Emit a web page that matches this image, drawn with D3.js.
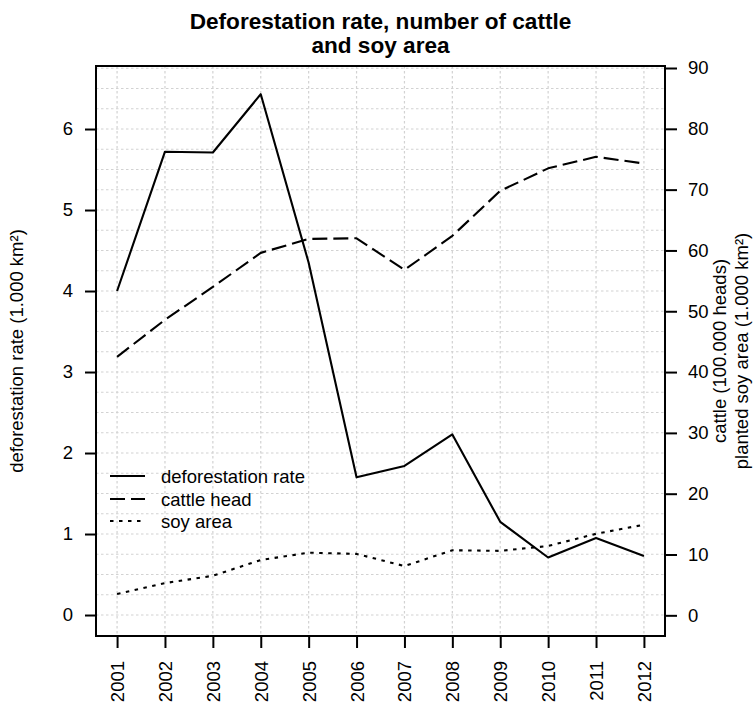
<!DOCTYPE html>
<html>
<head>
<meta charset="utf-8">
<script src="https://cdn.jsdelivr.net/npm/d3@7"></script>
<style>
  html, body { margin: 0; padding: 0; background: #fff; }
  svg { display: block; font-family: "Liberation Sans", Arial, sans-serif; }
</style>
</head>
<body>
<svg id="chart" width="753" height="702"></svg>
<script>
// Yearly series
const years = [2001, 2002, 2003, 2004, 2005, 2006, 2007, 2008, 2009, 2010, 2011, 2012];
// deforestation rate, 1.000 km²
const deforestation = [4.00, 5.72, 5.71, 6.43, 4.35, 1.70, 1.84, 2.23, 1.15, 0.71, 0.95, 0.73];
// cattle, 100.000 heads
const cattle = [42.5, 48.6, 54.0, 59.6, 61.9, 62.0, 56.8, 62.4, 69.8, 73.5, 75.4, 74.3];
// planted soy area, 1.000 km²
const soy = [3.5, 5.3, 6.5, 9.1, 10.3, 10.1, 8.1, 10.7, 10.6, 11.4, 13.4, 14.9];

const leftTicks = [0, 1, 2, 3, 4, 5, 6];
const rightTicks = [0, 10, 20, 30, 40, 50, 60, 70, 80, 90];
const legendLabels = ["deforestation rate", "cattle head", "soy area"];

const svg = d3.select("#chart");
const box = { left: 96, right: 665, top: 66, bottom: 636 };

const x = d3.scaleLinear().domain([2001 - 0.44, 2012 + 0.44]).range([box.left, box.right]);
const yL = d3.scaleLinear().domain([-0.259, 6.778]).range([box.bottom, box.top]);
const yR = d3.scaleLinear().domain([-3.40, 90.33]).range([box.bottom, box.top]);

// grid
const grid = svg.append("g")
  .attr("stroke", "#d2d2d2").attr("stroke-width", 1.2).attr("stroke-dasharray", "2.5,2.5");
grid.selectAll("line.v").data(years).join("line")
  .attr("x1", d => x(d)).attr("x2", d => x(d))
  .attr("y1", box.top).attr("y2", box.bottom);
const hGrid = d3.range(-0.25, 6.76, 0.25).filter(v => yL(v) > box.top + 1 && yL(v) < box.bottom - 1);
grid.selectAll("line.h").data(hGrid).join("line")
  .attr("x1", box.left).attr("x2", box.right)
  .attr("y1", d => yL(d)).attr("y2", d => yL(d));

// series
const series = [
  { values: deforestation, scale: yL, dash: null },
  { values: cattle, scale: yR, dash: "15,6" },
  { values: soy, scale: yR, dash: "3.5,5.5" }
];
series.forEach(s => {
  const line = d3.line().x((d, i) => x(years[i])).y(d => s.scale(d));
  svg.append("path")
    .datum(s.values)
    .attr("d", line)
    .attr("fill", "none")
    .attr("stroke", "#000")
    .attr("stroke-width", 2.1)
    .attr("stroke-linejoin", "round")
    .attr("stroke-dasharray", s.dash);
});

// axes
const styleAxis = g => {
  g.select(".domain").remove();
  g.selectAll(".tick line").attr("stroke", "#000").attr("stroke-width", 2);
  g.selectAll(".tick text").attr("fill", "#000").attr("font-size", 18.5).attr("font-family", null);
};

svg.append("g")
  .attr("transform", `translate(${box.left},0)`)
  .call(d3.axisLeft(yL).tickValues(leftTicks).tickFormat(d3.format("d")).tickSize(11).tickPadding(12))
  .call(styleAxis);

svg.append("g")
  .attr("transform", `translate(${box.right},0)`)
  .call(d3.axisRight(yR).tickValues(rightTicks).tickFormat(d3.format("d")).tickSize(12).tickPadding(11))
  .call(styleAxis);

svg.append("g")
  .attr("transform", `translate(0,${box.bottom})`)
  .call(d3.axisBottom(x).tickValues(years).tickFormat(d3.format("d")).tickSize(12))
  .call(styleAxis)
  .call(g => g.selectAll(".tick text")
    .attr("transform", "rotate(-90)")
    .attr("text-anchor", "end")
    .attr("x", -25).attr("y", 6.5).attr("dy", 0));

// frame
svg.append("rect")
  .attr("x", box.left).attr("y", box.top)
  .attr("width", box.right - box.left).attr("height", box.bottom - box.top)
  .attr("fill", "none").attr("stroke", "#000").attr("stroke-width", 2);

// title
const title = svg.append("text")
  .attr("text-anchor", "middle").attr("font-size", 22.6).attr("font-weight", "bold");
title.append("tspan").attr("x", (box.left + box.right) / 2).attr("y", 29).text("Deforestation rate, number of cattle");
title.append("tspan").attr("x", (box.left + box.right) / 2).attr("y", 53).text("and soy area");

// axis titles
const midY = (box.top + box.bottom) / 2;
svg.append("text")
  .attr("transform", `translate(23,${midY}) rotate(-90)`)
  .attr("text-anchor", "middle").attr("font-size", 18.5)
  .text("deforestation rate (1.000 km²)");
svg.append("text")
  .attr("transform", `translate(726,${midY}) rotate(-90)`)
  .attr("text-anchor", "middle").attr("font-size", 18.5)
  .text("cattle (100.000 heads)");
svg.append("text")
  .attr("transform", `translate(748,${midY}) rotate(-90)`)
  .attr("text-anchor", "middle").attr("font-size", 18.5)
  .text("planted soy area (1.000 km²)");

// legend
const legend = svg.append("g");
const legendRows = [476, 499, 521];
series.forEach((s, i) => {
  legend.append("line")
    .attr("x1", 110).attr("x2", 145)
    .attr("y1", legendRows[i]).attr("y2", legendRows[i])
    .attr("stroke", "#000").attr("stroke-width", 2)
    .attr("stroke-dasharray", s.dash);
  legend.append("text")
    .attr("x", 161).attr("y", legendRows[i] + 6.5)
    .attr("font-size", 18.5)
    .text(legendLabels[i]);
});
</script>
</body>
</html>
